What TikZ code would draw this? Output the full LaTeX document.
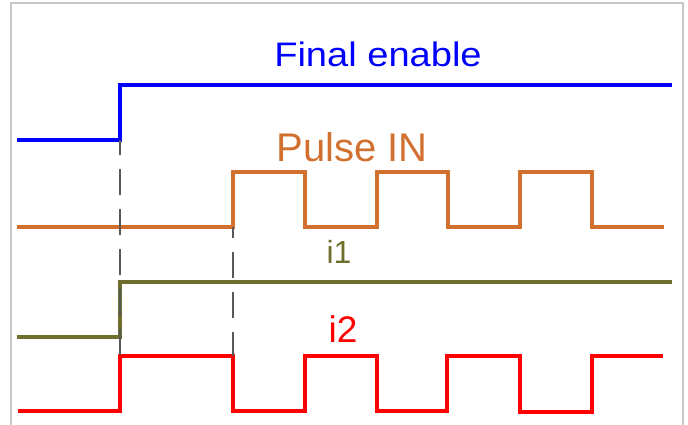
\documentclass[tikz,border=0pt]{standalone}
\usepackage{fontspec}
\setmainfont{Liberation Sans}

\definecolor{pulseorange}{RGB}{210,112,48}
\definecolor{iolive}{RGB}{110,110,45}
\definecolor{framegray}{RGB}{200,200,200}

\begin{document}
\begin{tikzpicture}[x=1pt, y=-1pt,
    wave/.style={line width=3.4pt},
    guide/.style={draw=black!65, line width=1.5pt, dash pattern=on 26pt off 14pt},
    lbl/.style={inner sep=0pt, anchor=base}]
  \useasboundingbox (0,0) rectangle (688,425);
  \draw[framegray, line width=2pt] (11,425) -- (11,3) -- (683,3) -- (683,425);
  % Final enable
  \draw[wave, blue] (17,140) -- (120,140) -- (120,85) -- (672,85);
  \node[lbl, blue, font=\fontsize{34}{34}\selectfont] (fen) at (378,67) {\scalebox{1.12}[1]{Final enable}};
  % Pulse IN
  \draw[wave, pulseorange] (17,227) -- (233,227) -- (233,172) -- (305,172) -- (305,227)
    -- (377,227) -- (377,172) -- (448,172) -- (448,227) -- (520,227) -- (520,172)
    -- (592,172) -- (592,227) -- (664,227);
  \node[lbl, pulseorange, font=\fontsize{40}{40}\selectfont] (pin) at (352,161) {Pulse IN};
  % i1
  \draw[wave, iolive] (17,337) -- (120,337) -- (120,282) -- (672,282);
  \node[lbl, iolive, font=\fontsize{32}{32}\selectfont] (ione) at (339,263) {i1};
  % i2
  \draw[wave, red] (18,411) -- (120,411) -- (120,356) -- (233,356) -- (233,411)
    -- (305,411) -- (305,356) -- (377,356) -- (377,411) -- (447,411) -- (447,356)
    -- (520,356) -- (520,412) -- (592,412) -- (592,356) -- (663,356);
  \node[lbl, red, font=\fontsize{37}{37}\selectfont] (itwo) at (343,342) {i2};
  % timing guides
  \draw[guide, dash phase=11pt] (120,140) -- (120,356);
  \draw[guide, dash phase=15pt] (233,227) -- (233,356);
\end{tikzpicture}
\end{document}
